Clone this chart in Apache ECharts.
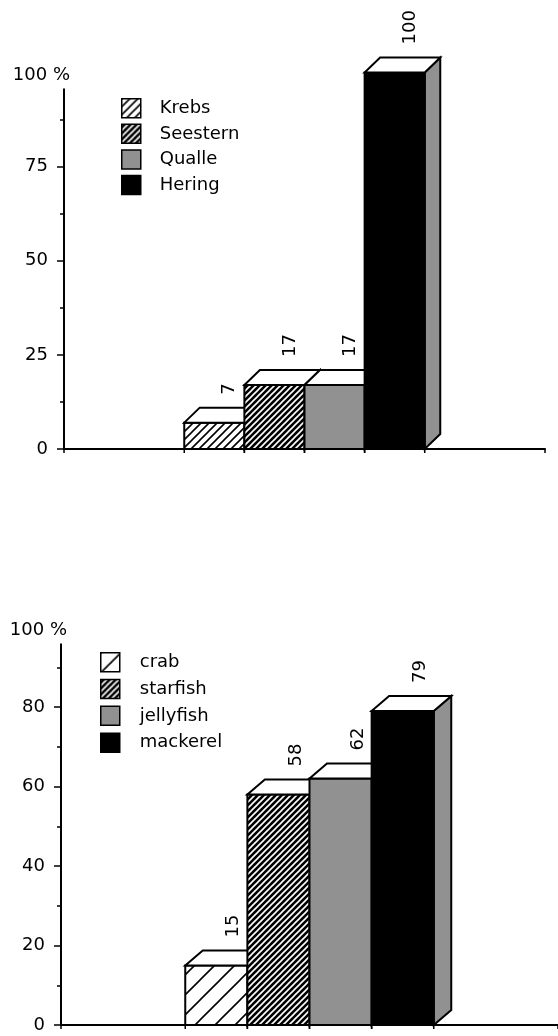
<!DOCTYPE html>
<html>
<head>
<meta charset="utf-8">
<style>
  html, body { margin: 0; padding: 0; background: #fff; }
  #chart { width: 558px; height: 1036px; }
</style>
<script src="https://cdn.jsdelivr.net/npm/echarts@6/dist/echarts.min.js"></script>
</head>
<body>
<div id="chart"></div>
<script>
// Upper panel (German labels)
const namesDe = ['Krebs', 'Seestern', 'Qualle', 'Hering'];
const valuesDe = [7, 17, 17, 100];
const ticksDe = [0, 25, 50, 75, 100];

// Lower panel (English labels)
const namesEn = ['crab', 'starfish', 'jellyfish', 'mackerel'];
const valuesEn = [15, 58, 62, 79];
const ticksEn = [0, 20, 40, 60, 80, 100];

const FONT = 'DejaVu Sans';
const GRAY = '#919191';
const SLOTS = 8;   // the category band is split into 8 bar-width slots
const LEAD = 2;    // empty slots before the first bar

// Diagonal hatch tile, tiled as a fill pattern
function hatch(size, bg, fg, lw) {
  const c = document.createElement('canvas');
  c.width = size; c.height = size;
  const g = c.getContext('2d');
  g.fillStyle = bg; g.fillRect(0, 0, size, size);
  g.strokeStyle = fg; g.lineWidth = lw;
  g.beginPath();
  g.moveTo(0, size); g.lineTo(size, 0);
  g.moveTo(-2, 2); g.lineTo(2, -2);
  g.moveTo(size - 2, size + 2); g.lineTo(size + 2, size - 2);
  g.stroke();
  return { image: c, repeat: 'repeat' };
}

const fillsDe = [hatch(8, '#fff', '#000', 1.6), hatch(6, '#000', '#fff', 1.6), GRAY, '#000'];
const fillsEn = [hatch(20, '#fff', '#000', 1.6), hatch(6, '#000', '#fff', 1.6), GRAY, '#000'];

// A box drawn in oblique projection: front face, top face, right side, value label
function bar3d(slot, fill, dx, dy) {
  return function (params, api) {
    const cat = api.value(0);
    const v = api.value(1);
    const base = api.coord([cat, 0]);
    const top = api.coord([cat, v]);
    const band = api.size([1, 0])[0];
    const w = band / SLOTS;
    const x0 = base[0] - band / 2 + (LEAD + slot) * w;
    const x1 = x0 + w;
    const yb = base[1], yt = top[1];
    const edge = { stroke: '#000', lineWidth: 2, lineJoin: 'miter' };
    return {
      type: 'group',
      children: [
        { type: 'polygon', shape: { points: [[x1, yt], [x1 + dx, yt - dy], [x1 + dx, yb - dy], [x1, yb]] },
          style: Object.assign({ fill: GRAY }, edge) },
        { type: 'rect', shape: { x: x0, y: yt, width: w, height: yb - yt },
          style: Object.assign({ fill: fill }, edge) },
        { type: 'polygon', shape: { points: [[x0, yt], [x1, yt], [x1 + dx, yt - dy], [x0 + dx, yt - dy]] },
          style: Object.assign({ fill: '#fff' }, edge) },
        { type: 'line', shape: { x1: x0, y1: yb, x2: x0, y2: yb + 4 }, style: { stroke: '#000', lineWidth: 1.5 } },
        { type: 'line', shape: { x1: x1, y1: yb, x2: x1, y2: yb + 4 }, style: { stroke: '#000', lineWidth: 1.5 } },
        { type: 'text', x: x0 + w / 2 + dx, y: yt - dy - 13, rotation: Math.PI / 2,
          style: { text: String(v), fill: '#000', font: '18px "' + FONT + '"', align: 'left', verticalAlign: 'middle' } }
      ]
    };
  };
}

function makeSeries(names, values, fills, axisIdx, dx, dy) {
  return names.map((n, i) => ({
    type: 'custom',
    name: n,
    xAxisIndex: axisIdx,
    yAxisIndex: axisIdx,
    itemStyle: { color: fills[i], borderColor: '#000', borderWidth: 1.5 },
    data: [[0, values[i]]],
    renderItem: bar3d(i, fills[i], dx, dy),
    silent: true
  }));
}

function yAxis(ticks, grid) {
  return {
    type: 'value', gridIndex: grid,
    min: ticks[0], max: ticks[ticks.length - 1], interval: ticks[1] - ticks[0],
    axisLine: { show: true, lineStyle: { color: '#000', width: 2 } },
    axisTick: { show: true, length: 7, lineStyle: { color: '#000', width: 1.5 } },
    minorTick: { show: true, splitNumber: 2, length: 4, lineStyle: { color: '#000', width: 1.5 } },
    splitLine: { show: false },
    axisLabel: {
      margin: 16, color: '#000', fontFamily: FONT, fontSize: 18,
      formatter: v => (v === ticks[ticks.length - 1] ? '' : String(v))
    }
  };
}

function xAxis(grid) {
  return {
    type: 'category', gridIndex: grid, data: [''], boundaryGap: true,
    axisLine: { show: true, lineStyle: { color: '#000', width: 2 } },
    axisTick: { show: true, length: 4, lineStyle: { color: '#000', width: 1.5 } },
    axisLabel: { show: false },
    splitLine: { show: false }
  };
}

function legend(names, left, top, size, gap, pad) {
  return {
    data: names, orient: 'vertical', left: left, top: top,
    icon: 'rect', itemWidth: size, itemHeight: size, itemGap: gap,
    itemStyle: { borderColor: '#000', borderWidth: 1.5 },
    textStyle: { color: '#000', fontFamily: FONT, fontSize: 18, lineHeight: size, padding: [0, 0, 0, pad] },
    selectedMode: false
  };
}

const GRID_TOP = { left: 64, top: 72.5, width: 481, height: 376.5 };
const GRID_BOT = { left: 61, top: 627.5, width: 500, height: 397.5 };

const chart = echarts.init(document.getElementById('chart'), null, { renderer: 'canvas' });
chart.setOption({
  backgroundColor: '#fff',
  animation: false,
  grid: [GRID_TOP, GRID_BOT],
  xAxis: [xAxis(0), xAxis(1)],
  yAxis: [yAxis(ticksDe, 0), yAxis(ticksEn, 1)],
  legend: [
    legend(namesDe, 116, 93, 19, 5.1, 14),
    legend(namesEn, 95, 647, 19, 6.3, 15)
  ],
  series: makeSeries(namesDe, valuesDe, fillsDe, 0, 15.5, 15)
    .concat(makeSeries(namesEn, valuesEn, fillsEn, 1, 17.5, 15))
});

// "100 %" heading label at the top of each value axis
const tops = [
  { axis: 0, x: GRID_TOP.left, max: ticksDe[ticksDe.length - 1] },
  { axis: 1, x: GRID_BOT.left, max: ticksEn[ticksEn.length - 1] }
];
chart.setOption({
  graphic: tops.map(t => {
    const y = chart.convertToPixel({ yAxisIndex: t.axis }, t.max);
    return {
      type: 'text', x: t.x + 6, y: y + 3, z: 100,
      style: {
        text: t.max + ' %', fill: '#000', font: '18px "' + FONT + '"',
        align: 'right', verticalAlign: 'middle',
        backgroundColor: '#fff', padding: [2, 0, 6, 0]
      }
    };
  })
});
</script>
</body>
</html>
